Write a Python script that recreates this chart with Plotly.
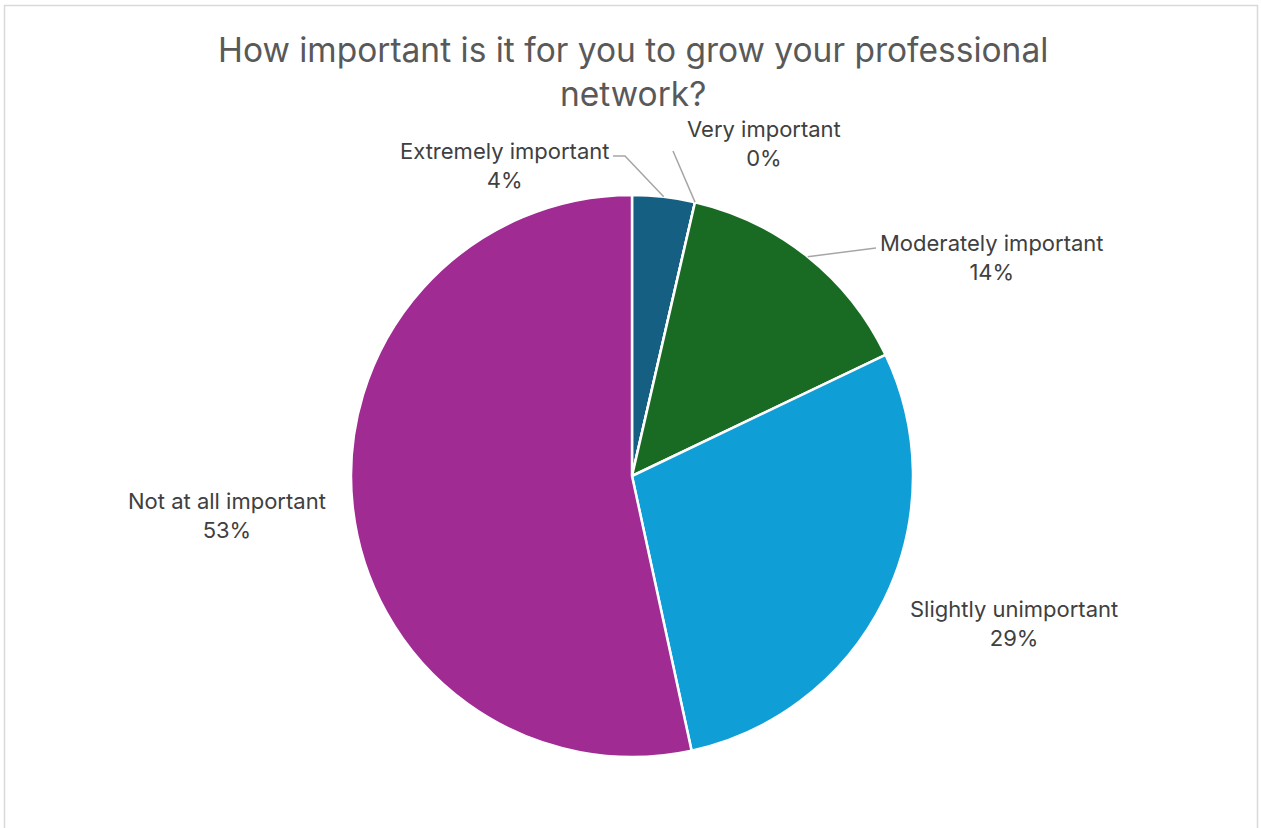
import math
import plotly.graph_objects as go

# ---- data ----
categories = ["Extremely important", "Very important", "Moderately important",
              "Slightly unimportant", "Not at all important"]
shares = [3.6, 0.0, 14.3, 28.7, 53.4]
colors = ["#156082", "#E97132", "#196B24", "#0F9ED5", "#A02B93"]
title_text = "How important is it for you to grow your professional<br>network?"

# ---- layout constants ----
W, H = 1261, 828
CX, CY, R = 632, 476, 281          # pie centre / radius in px
FONT = "Inter"
TEXT_COLOR = "#404040"

# label anchor (px, centre of text block) and leader line style
label_pos = [(504, 165), (764, 143), (992, 257), (1014, 623), (227, 515)]
leader = ["elbow", "boundary", "straight", None, None]
leader_start = [(613, 156), (673, 151), (876, 248), None, None]


def px2paper(x, y):
    return x / W, 1 - y / H


fig = go.Figure(go.Pie(
    labels=categories,
    values=shares,
    sort=False,
    direction="clockwise",
    rotation=0,
    marker=dict(colors=colors, line=dict(color="white", width=2.5)),
    textinfo="none",
    hoverinfo="skip",
    showlegend=False,
    domain=dict(x=[(CX - R) / W, (CX + R) / W], y=[1 - (CY + R) / H, 1 - (CY - R) / H]),
))

total = sum(shares)
annotations = []
shapes = []
cum = 0.0
for i, (cat, v) in enumerate(zip(categories, shares)):
    pct = round(100 * v / total)
    lx, ly = label_pos[i]
    ax, ay = px2paper(lx, ly)
    annotations.append(dict(
        x=ax, y=ay, xref="paper", yref="paper", showarrow=False,
        text=f"{cat}<br>{pct}%", align="center",
        font=dict(family=FONT, size=22, color=TEXT_COLOR),
        xanchor="center", yanchor="middle",
    ))
    if leader[i] == "boundary":
        ang = (cum + v) / total * 2 * math.pi
    else:
        ang = (cum + v / 2) / total * 2 * math.pi
    ex = CX + R * math.sin(ang)
    ey = CY - R * math.cos(ang)
    if leader[i] is not None:
        sx, sy = leader_start[i]
        pts = [(sx, sy)]
        if leader[i] == "elbow":
            pts.append((sx + 12, sy))
        pts.append((ex, ey))
        path = "M " + " L ".join(f"{px2paper(x, y)[0]},{px2paper(x, y)[1]}" for x, y in pts)
        shapes.append(dict(type="path", path=path, xref="paper", yref="paper",
                           line=dict(color="#a6a6a6", width=1.5)))
    cum += v

# title
tx, ty = px2paper(633, 72)
annotations.append(dict(
    x=tx, y=ty, xref="paper", yref="paper", showarrow=False,
    text=title_text, align="center", xanchor="center", yanchor="middle",
    font=dict(family=FONT, size=33.5, color="#595959"),
))

# chart border
shapes.append(dict(type="rect", xref="paper", yref="paper",
                   x0=4.5 / W, x1=1257.5 / W, y0=-0.05, y1=1 - 5.5 / H,
                   line=dict(color="#d9d9d9", width=1.5), fillcolor="rgba(0,0,0,0)"))

fig.update_layout(
    width=W, height=H,
    margin=dict(l=0, r=0, t=0, b=0),
    paper_bgcolor="white",
    annotations=annotations,
    shapes=shapes,
)

fig.write_html("out.html")
